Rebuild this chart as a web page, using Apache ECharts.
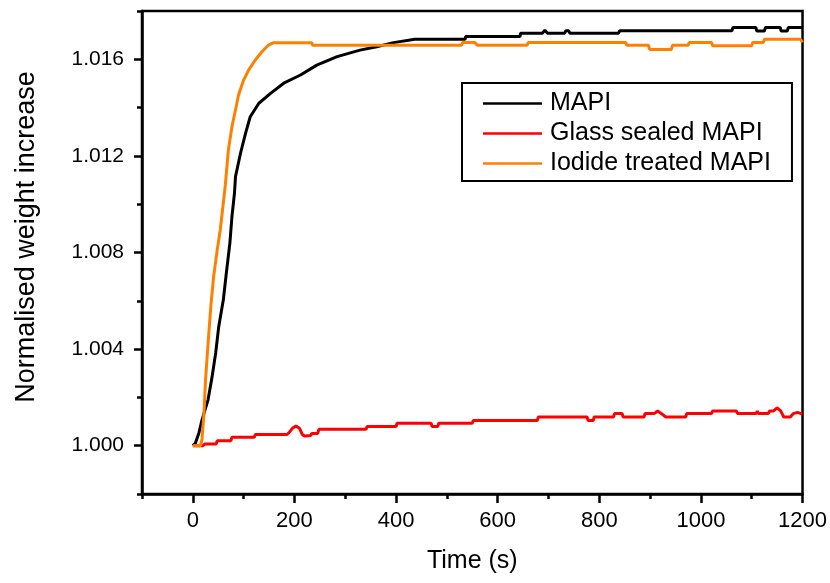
<!DOCTYPE html>
<html>
<head>
<meta charset="utf-8">
<script src="https://cdn.jsdelivr.net/npm/echarts@6/dist/echarts.min.js"></script>
<style>
  html, body { margin: 0; padding: 0; background: #fff; }
  #chart { width: 830px; height: 583px; }
</style>
</head>
<body>
<div id="chart"></div>
<script>
// time (s) and normalised weight
const mapiT = [0, 5, 12, 18, 30, 38, 45, 51, 60, 66, 73, 77, 82, 84, 94, 104, 113, 130, 153, 179, 212, 244, 284, 329, 362, 395, 437, 536, 537, 644, 645, 688, 693, 698, 732, 734, 740, 742, 838, 840, 1061, 1063, 1108, 1110, 1125, 1127, 1156, 1158, 1170, 1172, 1200];
const mapiV = [1.0000, 1.0001, 1.00053, 1.00106, 1.0019, 1.00286, 1.00384, 1.00493, 1.00603, 1.00715, 1.0084, 1.00948, 1.01046, 1.01114, 1.01212, 1.01295, 1.01362, 1.01418, 1.01459, 1.01501, 1.01535, 1.01576, 1.01611, 1.01638, 1.01652, 1.01669, 1.01683, 1.01683, 1.01694, 1.01694, 1.01708, 1.01708, 1.01721, 1.01708, 1.01708, 1.01718, 1.01718, 1.01708, 1.01708, 1.01718, 1.01718, 1.01732, 1.01732, 1.01717, 1.01717, 1.01732, 1.01732, 1.01717, 1.01717, 1.01732, 1.01732];

const glassT = [0, 20, 24, 46, 48, 75, 77, 121, 123, 185, 189, 196, 203, 210, 216, 221, 232, 234, 246, 248, 341, 343, 400, 402, 469, 471, 482, 484, 550, 552, 678, 680, 776, 778, 788, 790, 828, 830, 845, 847, 888, 890, 908, 915, 922, 931, 970, 972, 1021, 1023, 1070, 1072, 1109, 1111, 1113, 1133, 1135, 1143, 1150, 1157, 1163, 1176, 1182, 1190, 1200];
const glassV = [1.0000, 1.0000, 1.00007, 1.00007, 1.00021, 1.00021, 1.00035, 1.00035, 1.00046, 1.00046, 1.00053, 1.00072, 1.00082, 1.00072, 1.00045, 1.0004, 1.00042, 1.00051, 1.00051, 1.00068, 1.00068, 1.00079, 1.00079, 1.00093, 1.00093, 1.00079, 1.00079, 1.00093, 1.00093, 1.00104, 1.00104, 1.00119, 1.00119, 1.00104, 1.00104, 1.00119, 1.00119, 1.00133, 1.00133, 1.00119, 1.00119, 1.00133, 1.00133, 1.00144, 1.00133, 1.00119, 1.00119, 1.00133, 1.00133, 1.00144, 1.00144, 1.00133, 1.00133, 1.00144, 1.00133, 1.00133, 1.00144, 1.00144, 1.00157, 1.00144, 1.00119, 1.00119, 1.00133, 1.00138, 1.00131];

const iodideT = [0, 15, 18, 20, 22, 25, 31, 36, 41, 48, 54, 60, 64, 70, 77, 84, 90, 100, 110, 123, 136, 149, 159, 234, 236, 529, 531, 555, 560, 658, 660, 852, 854, 897, 899, 942, 944, 975, 977, 1021, 1023, 1100, 1102, 1123, 1125, 1196, 1200];
const iodideV = [1.0000, 1.0000, 1.00024, 1.0008, 1.00135, 1.00272, 1.00451, 1.0059, 1.007, 1.0081, 1.00893, 1.01005, 1.0108, 1.01224, 1.01321, 1.0139, 1.01452, 1.01514, 1.01556, 1.01597, 1.01631, 1.01659, 1.01669, 1.01669, 1.01658, 1.01658, 1.0167, 1.0167, 1.01658, 1.01658, 1.0167, 1.0167, 1.01658, 1.01658, 1.01641, 1.01641, 1.01658, 1.01658, 1.0167, 1.0167, 1.01656, 1.01656, 1.0167, 1.0167, 1.01683, 1.01683, 1.0167];

const seriesNames = ['MAPI', 'Glass sealed MAPI', 'Iodide treated MAPI'];
const seriesColors = ['#000000', '#ff0000', '#ff8000'];

const xMajor = [0, 200, 400, 600, 800, 1000, 1200];
const yMajor = [1.000, 1.004, 1.008, 1.012, 1.016];

const font = 'Liberation Sans, Arial, sans-serif';
const pairs = (t, v) => t.map((x, i) => [x, v[i]]);

const chart = echarts.init(document.getElementById('chart'));

const baseX = {
  type: 'value', min: -100, max: 1200, interval: 100, position: 'bottom',
  splitLine: { show: false }
};
const baseY = {
  type: 'value', min: 0.998, max: 1.018, interval: 0.002, position: 'left',
  splitLine: { show: false }
};

chart.setOption({
  animation: false,
  backgroundColor: '#fff',
  grid: {
    left: 142, right: 27, top: 11, bottom: 89,
    show: true, borderColor: '#000', borderWidth: 2.5
  },
  xAxis: [
    Object.assign({}, baseX, {
      axisLine: { onZero: false, lineStyle: { color: '#000', width: 2.5 } },
      axisTick: { length: 5, lineStyle: { color: '#000', width: 2.5 } },
      axisLabel: { show: false },
      name: 'Time (s)', nameLocation: 'middle', nameGap: 55,
      nameTextStyle: { color: '#000', fontSize: 25, fontFamily: font }
    }),
    Object.assign({}, baseX, {
      axisLine: { show: false, onZero: false },
      axisTick: { length: 9, customValues: xMajor, lineStyle: { color: '#000', width: 2.5 } },
      axisLabel: {
        customValues: xMajor, margin: 16, color: '#000', fontSize: 22, fontFamily: font,
        formatter: (v) => String(v)
      }
    })
  ],
  yAxis: [
    Object.assign({}, baseY, {
      axisLine: { show: true, onZero: false, lineStyle: { color: '#000', width: 2.5 } },
      axisTick: { show: true, length: 5, lineStyle: { color: '#000', width: 2.5 } },
      axisLabel: { show: false }
    }),
    Object.assign({}, baseY, {
      axisLine: { show: false, onZero: false },
      axisTick: { show: true, length: 8, customValues: yMajor, lineStyle: { color: '#000', width: 2.5 } },
      axisLabel: {
        customValues: yMajor, margin: 18, color: '#000', fontSize: 21, fontFamily: font,
        formatter: (v) => v.toFixed(3)
      }
    })
  ],
  graphic: [{
    type: 'text',
    x: 27, y: 237,
    rotation: Math.PI / 2,
    style: {
      text: 'Normalised weight increase',
      fill: '#000', fontSize: 27, fontFamily: font,
      textAlign: 'center', textVerticalAlign: 'middle'
    }
  }],
  legend: {
    orient: 'vertical',
    left: 462, top: 83,
    padding: [8, 21, 5, 21],
    itemGap: 5,
    itemWidth: 59, itemHeight: 2.5,
    icon: 'rect',
    borderColor: '#000', borderWidth: 2,
    textStyle: { color: '#000', fontSize: 25, fontFamily: font, lineHeight: 25, padding: [0, 0, 0, 3] },
    data: seriesNames
  },
  series: [
    { name: seriesNames[0], data: pairs(mapiT, mapiV) },
    { name: seriesNames[1], data: pairs(glassT, glassV) },
    { name: seriesNames[2], data: pairs(iodideT, iodideV) }
  ].map((s, i) => Object.assign(s, {
    type: 'line',
    showSymbol: false,
    color: seriesColors[i],
    lineStyle: { color: seriesColors[i], width: 3 },
    z: i === 2 ? 3 : 2
  }))
});
</script>
</body>
</html>
